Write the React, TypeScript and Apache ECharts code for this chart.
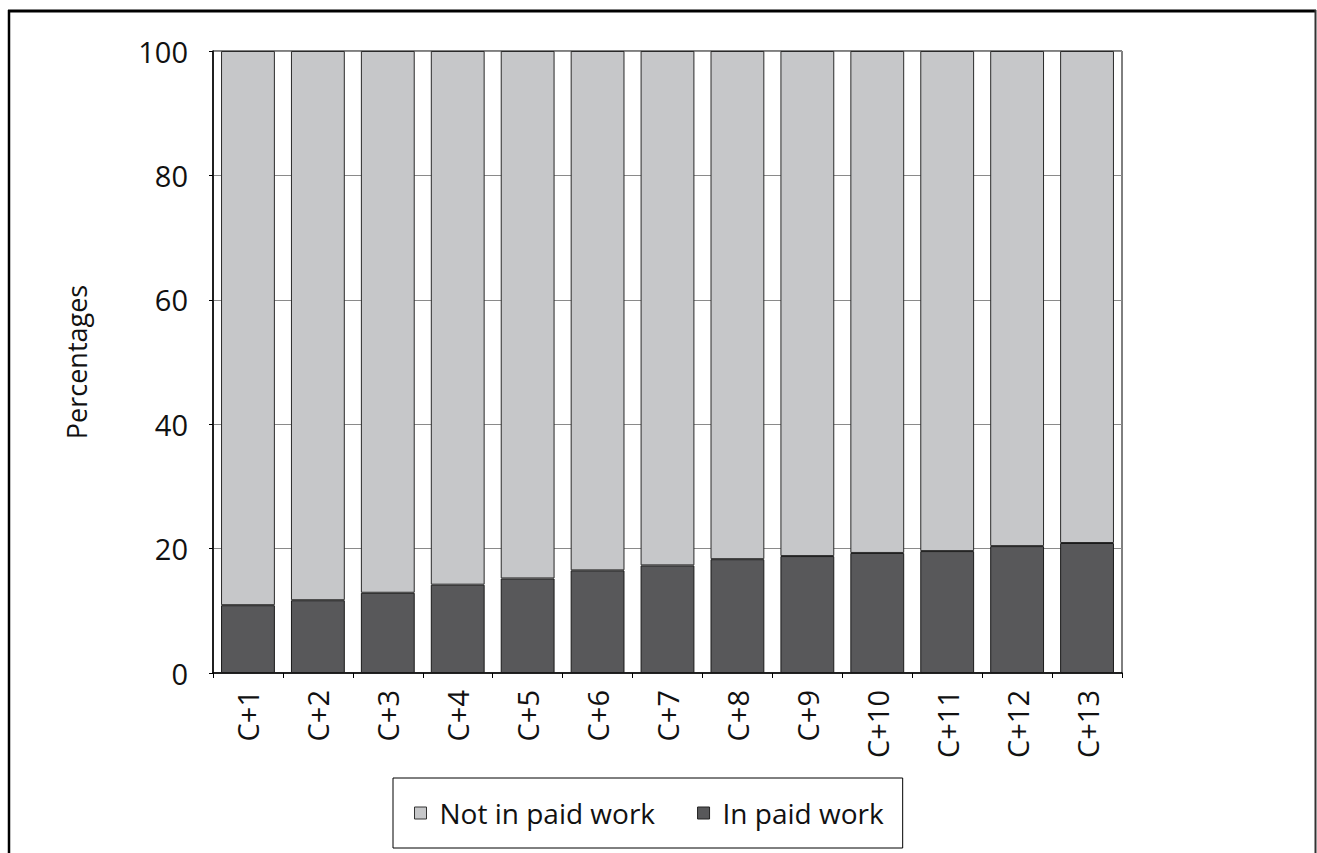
import React, { useEffect, useRef } from "react";
import * as echarts from "echarts";

const categories = ["C+1", "C+2", "C+3", "C+4", "C+5", "C+6", "C+7", "C+8", "C+9", "C+10", "C+11", "C+12", "C+13"];
const inPaidWork = [10.9, 11.7, 12.9, 14.2, 15.2, 16.5, 17.3, 18.3, 18.8, 19.3, 19.6, 20.4, 20.9];
const notInPaidWork = inPaidWork.map((v) => +(100 - v).toFixed(1));

const FONT = "'Open Sans', 'Noto Sans', sans-serif";

export default function App() {
  const ref = useRef<HTMLDivElement>(null);

  useEffect(() => {
    if (!ref.current) return;
    const chart = echarts.init(ref.current, undefined, { renderer: "svg" });
    chart.setOption({
      animation: false,
      backgroundColor: "#ffffff",
      textStyle: { fontFamily: FONT, color: "#000" },
      graphic: [
        { type: "line", shape: { x1: 8, y1: 11, x2: 1316, y2: 11 }, style: { stroke: "#000", lineWidth: 3 } },
        { type: "line", shape: { x1: 9, y1: 10, x2: 9, y2: 853 }, style: { stroke: "#000", lineWidth: 2.5 } },
        { type: "line", shape: { x1: 1315.5, y1: 10, x2: 1315.5, y2: 853 }, style: { stroke: "#333", lineWidth: 2 } },
      ],
      grid: {
        left: 213,
        right: 195,
        top: 51,
        bottom: 180,
        show: true,
        borderColor: "#000",
        borderWidth: 1,
      },
      legend: {
        left: 393,
        top: 778,
        itemWidth: 12,
        itemHeight: 12,
        itemGap: 42,
        padding: [21, 19, 21, 21],
        borderColor: "#000",
        borderWidth: 1,
        icon: "rect",
        textStyle: { fontFamily: FONT, fontSize: 28, color: "#111", padding: [0, 0, 0, 8] },
        data: [
          { name: "Not in paid work", itemStyle: { color: "#c6c7c9", borderColor: "#333", borderWidth: 1 } },
          { name: "In paid work", itemStyle: { color: "#58585a", borderColor: "#222", borderWidth: 1 } },
        ],
      },
      xAxis: {
        type: "category",
        data: categories,
        axisLine: { lineStyle: { color: "#000", width: 1.5 } },
        axisTick: { show: true, length: 5, lineStyle: { color: "#000" } },
        axisLabel: { rotate: 90, fontSize: 29, color: "#111", margin: 17, fontFamily: FONT },
      },
      yAxis: {
        type: "value",
        min: 0,
        max: 100,
        interval: 20,
        name: "Percentages",
        nameLocation: "middle",
        nameGap: 123,
        nameRotate: 90,
        nameTextStyle: { fontSize: 27, color: "#111", fontFamily: FONT },
        axisLine: { show: true, lineStyle: { color: "#000", width: 1.5 } },
        axisTick: { show: true, length: 4, lineStyle: { color: "#000" } },
        axisLabel: { fontSize: 29, color: "#111", margin: 25, fontFamily: FONT },
        splitLine: { show: true, lineStyle: { color: "#8a8a8a", width: 1 } },
      },
      series: [
        {
          name: "In paid work",
          type: "bar",
          stack: "total",
          data: inPaidWork,
          barCategoryGap: "23%",
          itemStyle: { color: "#58585a", borderColor: "#1a1a1a", borderWidth: 1 },
        },
        {
          name: "Not in paid work",
          type: "bar",
          stack: "total",
          data: notInPaidWork,
          barCategoryGap: "23%",
          itemStyle: { color: "#c6c7c9", borderColor: "#2a2a2a", borderWidth: 1 },
        },
      ],
    });
    return () => chart.dispose();
  }, []);

  return (
    <div
      ref={ref}
      style={{ position: "absolute", left: 0, top: 0, width: 1317, height: 853, background: "#fff" }}
    />
  );
}
